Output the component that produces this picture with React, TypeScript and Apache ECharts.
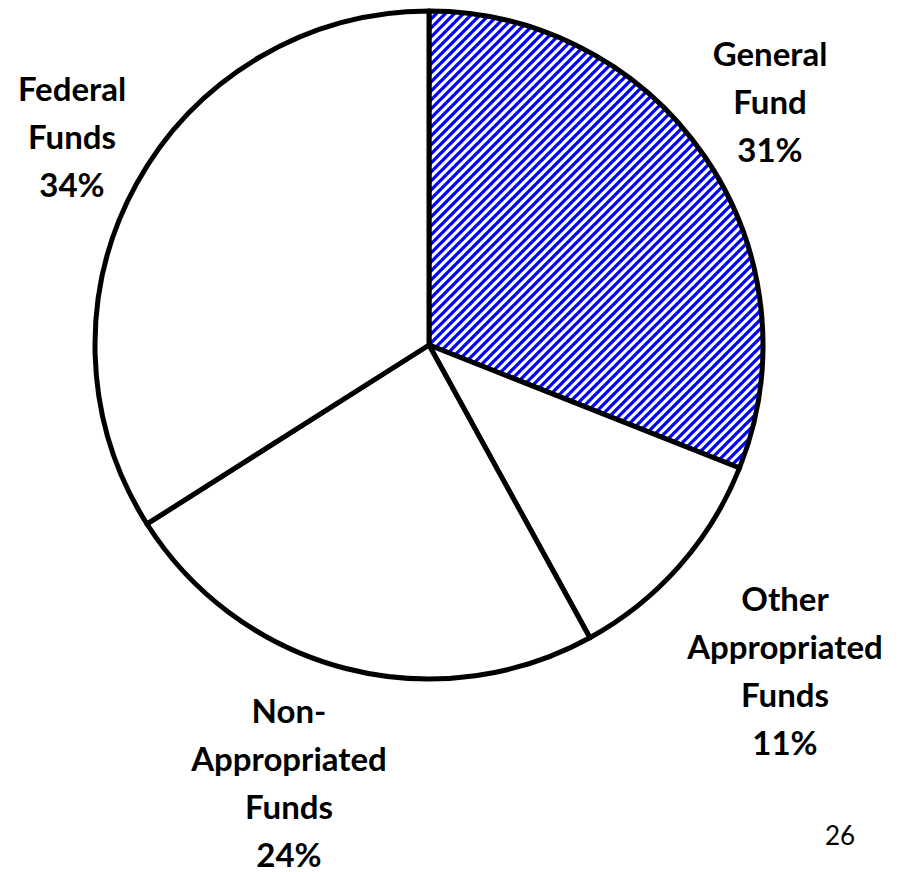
import React, { useEffect, useRef } from "react";
import * as echarts from "echarts";

const categories = ["General\nFund", "Other\nAppropriated\nFunds", "Non-\nAppropriated\nFunds", "Federal\nFunds"];
const values = [31, 11, 24, 34];
const pageNumber = "26";

// label block centers (layout only)
const labelCenters = [
  [770, 101],
  [785, 670],
  [289, 782],
  [72, 136],
];

const hatchSvg =
  "data:image/svg+xml;utf8," +
  encodeURIComponent(
    "<svg xmlns='http://www.w3.org/2000/svg' width='9' height='9'>" +
      "<rect width='9' height='9' fill='white'/>" +
      "<path d='M-3,3 L3,-3 M0,9 L9,0 M6,12 L12,6' stroke='#0000ff' stroke-width='3.3'/>" +
      "</svg>"
  );

export default function App() {
  const ref = useRef<HTMLDivElement>(null);
  useEffect(() => {
    const chart = echarts.init(ref.current!, null, { renderer: "svg" });
    const hatch: any = { image: hatchSvg, repeat: "repeat", imageWidth: 9, imageHeight: 9 };
    chart.setOption({
      animation: false,
      backgroundColor: "#ffffff",
      graphic: [
        {
          type: "text",
          left: 825,
          top: 822,
          style: { text: pageNumber, font: "26px Lato", fill: "#000" },
        },
      ],
      series: [
        {
          type: "pie",
          center: [429, 345],
          radius: 334,
          startAngle: 90,
          clockwise: true,
          silent: true,
          data: categories.map((c, i) => ({
            name: c,
            value: values[i],
            itemStyle: { color: i === 0 ? hatch : "#ffffff" },
          })),
          itemStyle: { borderColor: "#000", borderWidth: 5 },
          label: {
            show: true,
            position: "outside",
            formatter: (p: any) => `${p.name}\n${p.value}%`,
            fontFamily: "Lato",
            fontWeight: "bold",
            fontSize: 33,
            lineHeight: 48,
            color: "#000",
            align: "center",
            overflow: "none",
            width: 260,
          },
          labelLine: { show: false },
          labelLayout: (p: any) => {
            const c = labelCenters[p.dataIndex];
            return { x: c[0], y: c[1], align: "center", verticalAlign: "middle" };
          },
        },
      ],
    });
    return () => chart.dispose();
  }, []);
  return <div ref={ref} style={{ position: "fixed", left: 0, top: 0, width: 903, height: 872 }} />;
}
